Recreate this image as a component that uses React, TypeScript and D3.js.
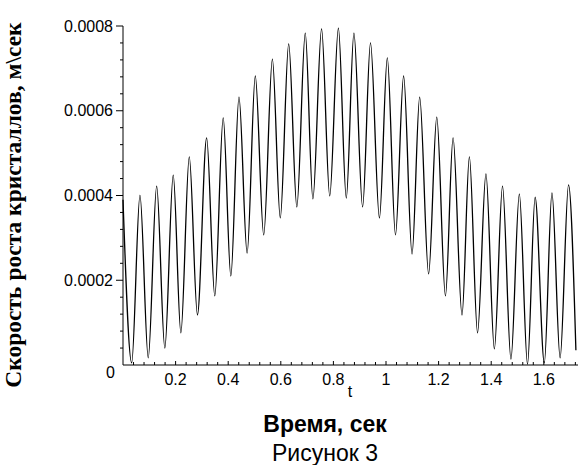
import React from 'react'
import * as d3 from 'd3'

const W = 578
const H = 465

// local maxima of the growth-rate curve: [t, v]
const peaks: [number, number][] = [
  [0.0, 0.00039], [0.0645, 0.000401], [0.128, 0.000422], [0.191, 0.000448],
  [0.252, 0.000491], [0.318, 0.000536], [0.381, 0.000583], [0.441, 0.000632],
  [0.503, 0.000682], [0.568, 0.000722], [0.63, 0.000758], [0.693, 0.000783],
  [0.755, 0.000793], [0.819, 0.000795], [0.878, 0.000783], [0.941, 0.00076],
  [1.005, 0.000725], [1.067, 0.000682], [1.128, 0.000632], [1.193, 0.000585],
  [1.255, 0.000536], [1.317, 0.000491], [1.38, 0.000451], [1.443, 0.000422],
  [1.507, 0.000404], [1.567, 0.000396], [1.631, 0.000406], [1.694, 0.000425],
]

// local minima
const troughs: [number, number][] = [
  [0.033, 0.000005], [0.096, 0.000017], [0.159, 0.00004], [0.22, 0.000076],
  [0.283, 0.000118], [0.349, 0.000163], [0.41, 0.00021], [0.472, 0.000264],
  [0.535, 0.000307], [0.598, 0.000347], [0.661, 0.000373], [0.722, 0.000392],
  [0.786, 0.000399], [0.849, 0.000394], [0.911, 0.000373], [0.975, 0.000347],
  [1.036, 0.000307], [1.099, 0.000262], [1.162, 0.000215], [1.226, 0.000163],
  [1.289, 0.000118], [1.348, 0.000076], [1.412, 0.000038], [1.475, 0.000014],
  [1.538, 0.000002], [1.602, 0.000005], [1.662, 0.000017], [1.722, 0.000035],
]

const xTicks = [0.2, 0.4, 0.6, 0.8, 1, 1.2, 1.4, 1.6]
const xTickLabels = ['0.2', '0.4', '0.6', '0.8', '1', '1.2', '1.4', '1.6']
const yTicks = [0.0002, 0.0004, 0.0006, 0.0008]
const yTickLabels = ['0.0002', '0.0004', '0.0006', '0.0008']

const yTitle = 'Скорость роста кристаллов, м\\сек'
const xTitle = 'Время, сек'
const caption = 'Рисунок 3'

const tickFont = '"Liberation Sans", Arial, sans-serif'

export default function App() {
  const x = d3.scaleLinear().domain([0, 1.73]).range([123, 578])
  const y = d3.scaleLinear().domain([0, 0.0008]).range([365, 26])

  const pts = [...peaks, ...troughs].sort((a, b) => a[0] - b[0])
  const line = d3.line<[number, number]>()
    .x(d => x(d[0]))
    .y(d => y(d[1]))
    .curve(d3.curveMonotoneX)

  // minor ticks: 4 between each pair of labelled ticks
  const xMinor = d3.range(1, 44).map(i => i * 0.04).filter(v => Math.abs(v / 0.2 - Math.round(v / 0.2)) > 0.01)
  const yMinor = d3.range(1, 20).map(i => i * 0.00004).filter(v => Math.abs(v / 0.0002 - Math.round(v / 0.0002)) > 0.01)

  return (
    <svg width={W} height={H} style={{ position: 'absolute', left: 0, top: 0, background: '#fff' }}>
      <path d={line(pts) || ''} fill="none" stroke="#000" strokeWidth={1.3} />

      {/* axes */}
      <line x1={x(0)} x2={W} y1={y(0)} y2={y(0)} stroke="#000" />
      <line x1={x(0)} x2={x(0)} y1={y(0)} y2={y(0.0008)} stroke="#000" />

      {xMinor.map((v, i) => (
        <line key={'xm' + i} x1={x(v)} x2={x(v)} y1={y(0)} y2={y(0) - 3} stroke="#000" />
      ))}
      {xTicks.map((v, i) => (
        <g key={'xt' + i}>
          <line x1={x(v)} x2={x(v)} y1={y(0)} y2={y(0) - 4} stroke="#000" />
          <text x={x(v)} y={385} textAnchor="middle" fontFamily={tickFont} fontSize={16}>{xTickLabels[i]}</text>
        </g>
      ))}
      <text x={350} y={397} textAnchor="middle" fontFamily={tickFont} fontSize={16}>t</text>

      {yMinor.map((v, i) => (
        <line key={'ym' + i} x1={x(0) - 3} x2={x(0)} y1={y(v)} y2={y(v)} stroke="#000" />
      ))}
      {yTicks.map((v, i) => (
        <g key={'yt' + i}>
          <line x1={x(0) - 7} x2={x(0)} y1={y(v)} y2={y(v)} stroke="#000" />
          <text x={113} y={y(v)} dy="0.35em" textAnchor="end" fontFamily={tickFont} fontSize={16}>{yTickLabels[i]}</text>
        </g>
      ))}
      <text x={115} y={378} textAnchor="end" fontFamily={tickFont} fontSize={16}>0</text>

      <text transform="translate(21,205) rotate(-90)" textAnchor="middle"
        fontFamily='"Liberation Serif", "Times New Roman", serif' fontWeight="bold" fontSize={23.5}>{yTitle}</text>
      <text x={325} y={432} textAnchor="middle" fontFamily={tickFont} fontWeight="bold" fontSize={23}>{xTitle}</text>
      <text x={325} y={461} textAnchor="middle" fontFamily={tickFont} fontSize={23}>{caption}</text>
    </svg>
  )
}
